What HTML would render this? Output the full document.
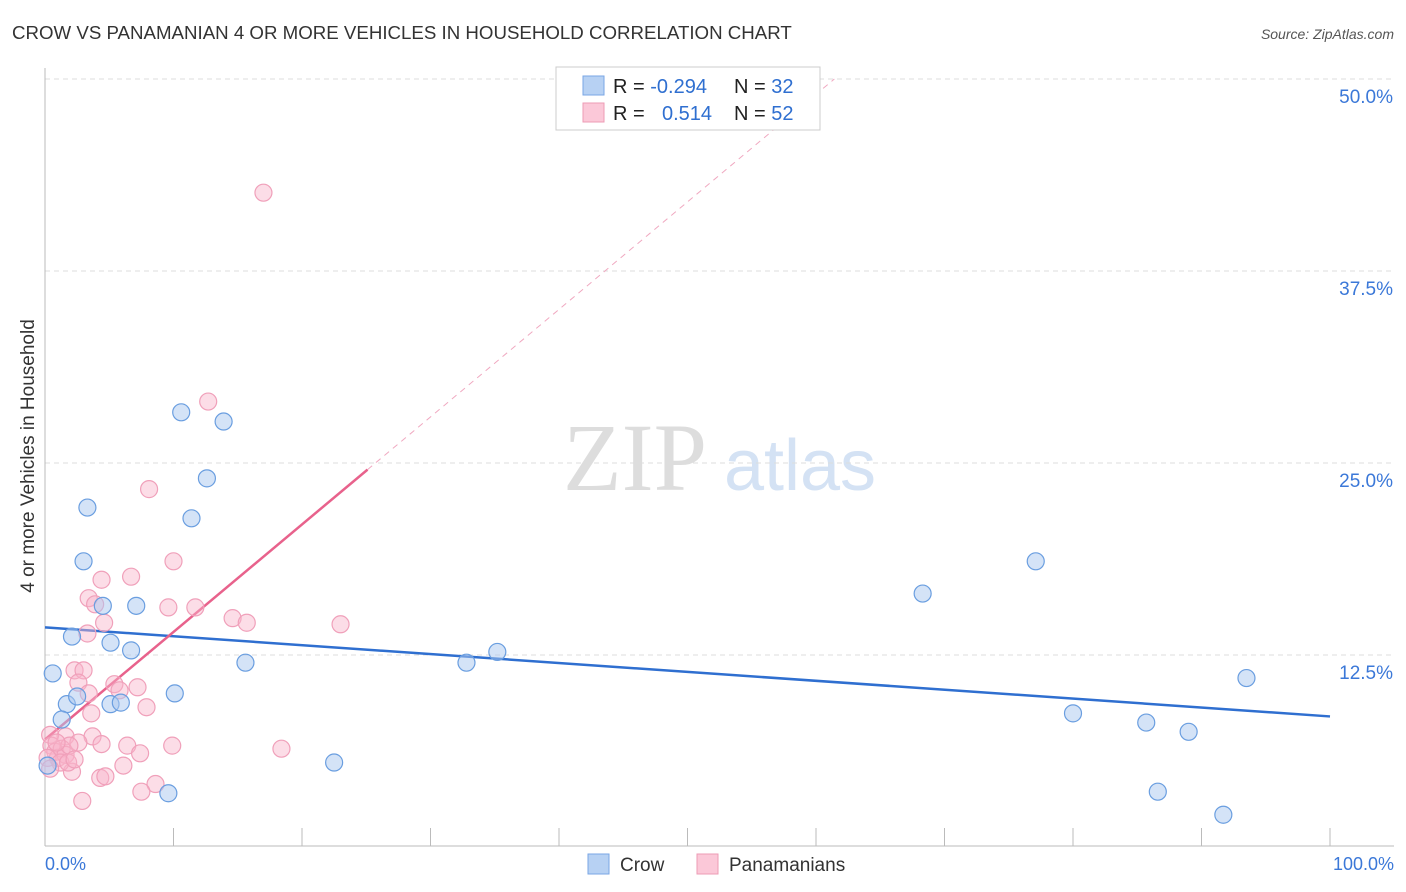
<!DOCTYPE html>
<html><head><meta charset="utf-8"><style>
body{margin:0;background:#fff;font-family:"Liberation Sans",sans-serif;}
svg{display:block}
</style></head><body>
<svg id="chart" width="1406" height="892">
<text x="12" y="39" font-size="18.7" fill="#333">CROW VS PANAMANIAN 4 OR MORE VEHICLES IN HOUSEHOLD CORRELATION CHART</text>
<text x="1394" y="39" font-size="14" fill="#555" font-style="italic" text-anchor="end">Source: ZipAtlas.com</text>
<text x="34" y="456" font-size="19" fill="#333" text-anchor="middle" transform="rotate(-90 34 456)">4 or more Vehicles in Household</text>
<g>
<text x="635" y="490" font-size="96" fill="#ddd" font-family="Liberation Serif,serif" text-anchor="middle">ZIP</text>
<text x="800" y="490" font-size="72" fill="#d4e2f4" text-anchor="middle">atlas</text>
</g>
<g id="grid"></g>
<g id="axes"></g>
<g id="lines"></g>
<g id="points"></g>
<g>
<rect x="556" y="67" width="264" height="63" fill="#fff" stroke="#ccc"/>
<rect x="583" y="76" width="21" height="19" fill="#b7d1f3" stroke="#7aa6e4"/>
<rect x="583" y="103" width="21" height="19" fill="#fbc8d8" stroke="#ee9bb5"/>
<text x="613" y="93" font-size="20" fill="#222">R = <tspan fill="#2f6fd0">-0.294</tspan></text>
<text x="734" y="93" font-size="20" fill="#222">N = <tspan fill="#2f6fd0">32</tspan></text>
<text x="613" y="120" font-size="20" fill="#222">R = </text>
<text x="662" y="120" font-size="20" fill="#2f6fd0">0.514</text>
<text x="734" y="120" font-size="20" fill="#222">N = <tspan fill="#2f6fd0">52</tspan></text>
</g>
<g>
<rect x="588" y="854" width="21" height="20" fill="#b7d1f3" stroke="#7aa6e4"/>
<text x="620" y="871" font-size="19" fill="#333">Crow</text>
<rect x="697" y="854" width="21" height="20" fill="#fbc8d8" stroke="#ee9bb5"/>
<text x="729" y="871" font-size="19" fill="#333">Panamanians</text>
</g>
</svg>
<script>
const crowX=[0.6,1.7,1.3,2.1,2.5,3.0,3.3,4.5,5.1,5.1,5.9,6.7,7.1,9.6,10.1,10.6,11.4,12.6,13.9,15.6,22.5,32.8,35.2,68.3,77.1,80.0,85.7,86.6,89.0,91.7,93.5,0.2];
const crowY=[11.3,9.3,8.3,13.7,9.8,18.6,22.1,15.7,13.3,9.3,9.4,12.8,15.7,3.5,10.0,28.3,21.4,24.0,27.7,12.0,5.5,12.0,12.7,16.5,18.6,8.7,8.1,3.6,7.5,2.1,11.0,5.3];
const panX=[17.0,12.7,8.1,10.0,4.4,6.7,3.4,3.9,9.6,11.7,14.6,15.7,23.0,4.6,3.3,2.3,3.0,2.6,3.4,5.4,5.8,7.2,7.9,3.6,3.7,1.6,2.6,4.4,6.4,9.9,7.4,18.4,6.1,2.1,4.3,4.7,8.6,7.5,2.9,0.4,0.5,0.8,1.0,1.3,1.6,1.9,0.2,0.9,1.2,1.8,0.4,2.3];
const panY=[42.6,29.0,23.3,18.6,17.4,17.6,16.2,15.8,15.6,15.6,14.9,14.6,14.5,14.6,13.9,11.5,11.5,10.7,10.0,10.6,10.2,10.4,9.1,8.7,7.2,7.2,6.8,6.7,6.6,6.6,6.1,6.4,5.3,4.9,4.5,4.6,4.1,3.6,3.0,7.3,6.6,6.2,5.8,6.4,6.0,6.6,5.8,6.8,5.5,5.5,5.1,5.7];
const yTicks=[12.5,25.0,37.5,50.0];
const yTickLabels=["12.5%","25.0%","37.5%","50.0%"];
const crowTrend=[14.3,8.5];
const panTrend=[7.0,0.7];
const NS="http://www.w3.org/2000/svg";
const sx=v=>45+v*12.85, sy=v=>847-v*15.36;
function mk(p,t,a){const e=document.createElementNS(NS,t);for(const k in a)e.setAttribute(k,a[k]);document.getElementById(p).appendChild(e);return e;}
yTicks.forEach((t,i)=>{
 const g=mk('grid','line',{x1:45,x2:1394,y1:sy(t),y2:sy(t),stroke:'#ddd','stroke-dasharray':'5,4'});
 
 
 const l=mk('grid','text',{x:1393,y:sy(t)+24,'font-size':19,fill:'#3b78d8','text-anchor':'end'});
 l.textContent=yTickLabels[i];
 
 
});
mk('axes','line',{x1:45,x2:45,y1:68,y2:846,stroke:'#bbb'});
mk('axes','line',{x1:45,x2:1394,y1:846,y2:846,stroke:'#bbb'});
for(let i=1;i<=10;i++){mk('axes','line',{x1:sx(i*10),x2:sx(i*10),y1:828,y2:846,stroke:'#bbb'});}
let t0=mk('axes','text',{x:45,y:870,'font-size':18,fill:'#3b78d8'});t0.textContent='0.0%';


let t1=mk('axes','text',{x:1394,y:870,'font-size':18,fill:'#3b78d8','text-anchor':'end'});t1.textContent='100.0%';


const bl=mk('lines','line',{x1:sx(0),y1:sy(crowTrend[0]),x2:sx(100),y2:sy(crowTrend[1]),stroke:'#2f6fd0','stroke-width':2.5});


const xe=25.1;
const pl=mk('lines','line',{x1:sx(0),y1:sy(panTrend[0]),x2:sx(xe),y2:sy(panTrend[0]+panTrend[1]*xe),stroke:'#e8628c','stroke-width':2.5});


const xd=(50.0-panTrend[0])/panTrend[1];
const pd=mk('lines','line',{x1:sx(xe),y1:sy(panTrend[0]+panTrend[1]*xe),x2:sx(xd),y2:sy(panTrend[0]+panTrend[1]*xd),stroke:'#f0a8c0','stroke-width':1,'stroke-dasharray':'6,5'});


panX.forEach((x,i)=>{const c=mk('points','circle',{cx:sx(x),cy:sy(panY[i]),r:8.5,fill:'rgba(248,180,202,0.45)',stroke:'#f0a0ba','stroke-width':1.2});

});
crowX.forEach((x,i)=>{const c=mk('points','circle',{cx:sx(x),cy:sy(crowY[i]),r:8.5,fill:'rgba(170,200,240,0.5)',stroke:'#6a9ee0','stroke-width':1.2});

});
</script>
</body></html>
